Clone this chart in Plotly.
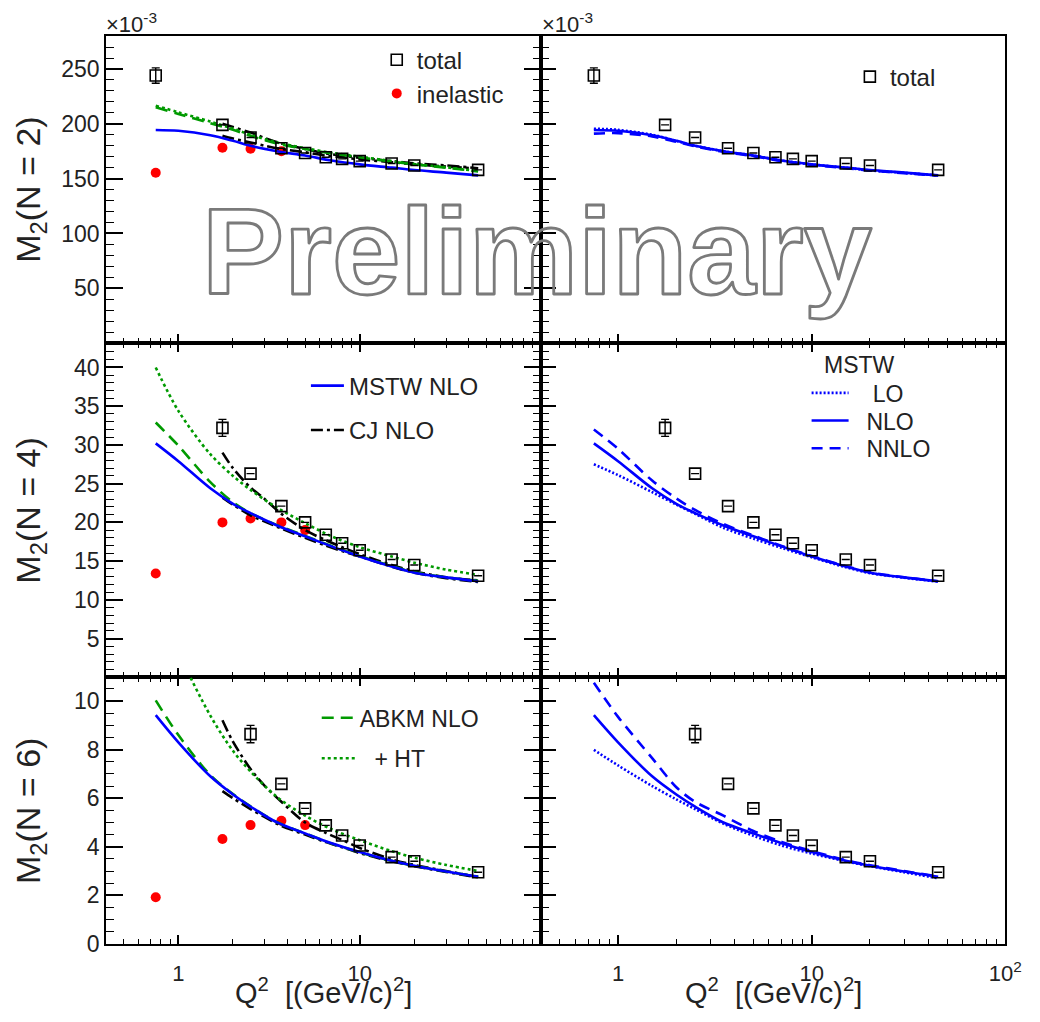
import math
import plotly.graph_objects as go

# ---------------- data (moments in units of 1e-3) ----------------
Q2_DATA = [0.75, 1.75, 2.5, 3.7, 5.0, 6.5, 8.0, 10.0, 15.0, 20.0, 45.0]
Q2_INEL = [0.75, 1.75, 2.5, 3.7, 5.0]
Q2_CURVE = [0.75, 1.0, 1.5, 2.0, 2.5, 3.5, 5.0, 7.0, 10.0, 15.0, 20.0, 30.0, 45.0]
Q2_CJ = [1.75, 2.0, 2.5, 3.0, 3.7, 5.0, 6.5, 8.0, 10.0, 15.0, 20.0, 30.0, 45.0]

# N = 2  (error bars smaller than the marker are not drawn: None)
TOTAL_N2 = [244.0, 199.0, 187.5, 177.7, 173.4, 169.5, 168.0, 166.0, 163.8, 162.0, 158.0]
TOTAL_N2_ERR = [7.0, None, None, None, None, None, None, None, None, None, None]
INEL_N2 = [155.4, 178.2, 177.3, 175.0]
MSTW_LO_N2 = [195.5, 194.5, 190.0, 184.5, 180.0, 175.0, 171.0, 166.5, 163.0, 160.0, 157.5, 155.3, 152.8]
MSTW_NLO_N2 = [194.4, 193.6, 189.5, 184.5, 180.0, 175.0, 171.0, 166.5, 163.0, 160.0, 157.8, 155.5, 153.0]
MSTW_NNLO_N2 = [191.0, 191.5, 188.5, 183.5, 179.5, 174.5, 170.5, 166.0, 162.5, 159.5, 157.3, 155.0, 152.8]
ABKM_NLO_N2 = [215.0, 209.0, 200.5, 194.5, 189.0, 182.0, 177.0, 173.0, 169.5, 165.5, 163.0, 160.0, 156.5]
ABKM_HT_N2 = [216.5, 210.5, 202.0, 195.5, 190.0, 183.0, 177.8, 173.6, 170.0, 166.0, 163.3, 160.3, 156.8]
CJ_NLO_N2 = [189.0, 186.5, 183.0, 180.0, 177.0, 174.0, 171.0, 169.5, 167.5, 165.0, 163.0, 161.0, 159.0]
CJ_NLO_HT_N2 = [200.0, 197.0, 192.0, 187.0, 182.0, 177.0, 173.0, 171.0, 169.0, 166.0, 164.0, 162.0, 159.5]

# N = 4
TOTAL_N4 = [32.2, 26.3, 22.1, 20.0, 18.4, 17.3, 16.4, 15.2, 14.5, 13.1]
TOTAL_N4_ERR = [1.1, None, None, None, None, None, None, None, None, None]
INEL_N4 = [13.4, 20.0, 20.5, 20.0, 19.0]
MSTW_LO_N4 = [27.5, 26.1, 23.9, 22.3, 21.1, 19.3, 17.9, 16.7, 15.5, 14.2, 13.45, 12.85, 12.35]
MSTW_NLO_N4 = [30.2, 27.9, 24.4, 22.4, 21.2, 19.6, 18.2, 16.9, 15.6, 14.3, 13.5, 12.9, 12.4]
MSTW_NNLO_N4 = [32.0, 29.5, 25.4, 23.1, 21.6, 19.8, 18.3, 16.95, 15.65, 14.35, 13.55, 12.9, 12.4]
ABKM_NLO_N4 = [32.9, 29.9, 25.2, 22.6, 21.2, 19.65, 18.25, 16.95, 15.65, 14.35, 13.55, 12.9, 12.45]
ABKM_HT_N4 = [40.0, 34.4, 28.8, 26.0, 24.2, 21.9, 19.9, 18.2, 16.8, 15.6, 14.8, 13.9, 13.2]
CJ_NLO_N4 = [23.2, 22.3, 20.9, 20.1, 19.2, 18.0, 17.0, 16.3, 15.6, 14.3, 13.5, 12.8, 12.3]
CJ_NLO_HT_N4 = [29.0, 27.0, 24.5, 23.0, 21.1, 19.0, 17.7, 16.8, 15.9, 14.5, 13.7, 12.9, 12.5]

# N = 6
TOTAL_N6 = [8.64, 6.59, 5.58, 4.88, 4.46, 4.05, 3.57, 3.40, 2.95]
TOTAL_N6_ERR = [0.36, None, None, None, None, None, None, None, None]
INEL_N6 = [1.92, 4.32, 4.89, 5.07, 4.89]
MSTW_LO_N6 = [7.99, 7.35, 6.5, 5.95, 5.55, 4.95, 4.45, 4.05, 3.72, 3.4, 3.2, 2.95, 2.70]
MSTW_NLO_N6 = [9.42, 8.3, 6.9, 6.15, 5.65, 5.0, 4.55, 4.14, 3.78, 3.42, 3.22, 2.98, 2.76]
MSTW_NNLO_N6 = [10.75, 9.35, 7.65, 6.45, 5.85, 5.28, 4.65, 4.2, 3.82, 3.45, 3.24, 3.0, 2.77]
ABKM_NLO_N6 = [10.03, 8.6, 6.95, 6.17, 5.66, 5.01, 4.55, 4.13, 3.77, 3.42, 3.22, 2.98, 2.77]
ABKM_HT_N6 = [14.1, 12.0, 9.4, 7.95, 7.1, 6.05, 5.28, 4.72, 4.27, 3.82, 3.55, 3.25, 3.0]
CJ_NLO_N6 = [6.29, 6.0, 5.55, 5.22, 4.86, 4.5, 4.19, 3.98, 3.74, 3.4, 3.2, 2.96, 2.74]
CJ_NLO_HT_N6 = [9.21, 8.33, 7.2, 6.5, 5.85, 5.0, 4.57, 4.28, 3.95, 3.48, 3.25, 3.0, 2.75]

Y_TICKS_N2 = [50, 100, 150, 200, 250]
Y_TICKS_N4 = [5, 10, 15, 20, 25, 30, 35, 40]
Y_TICKS_N6 = [0, 2, 4, 6, 8, 10]
X_TICKS = [1, 10, 100]
X_TICKTEXT_LEFT = ["1", "10", ""]
X_TICKTEXT_RIGHT = ["1", "10", "10<sup>2</sup>"]

# ---------------- styling ----------------
W, H = 1040, 1022
FONT = "Liberation Sans, Arial, sans-serif"
TXT = "#222222"
BLUE = "#0000ff"
GREEN = "#009a00"
RED = "#ff0000"
LW = 2.6
NB = "\u00a0"


def px_x(p):
    return p / W


def px_y(p):
    return 1 - p / H


XL = [px_x(108), px_x(550)]
XR = [px_x(550), px_x(1022)]
ROWS = {
    "top": [px_y(347.5), px_y(36)],
    "mid": [px_y(686), px_y(347.5)],
    "bot": [px_y(956), px_y(686)],
}

fig = go.Figure()

# panel -> (xaxis name, yaxis name)
PANELS = {
    ("top", "L"): ("x", "y"), ("top", "R"): ("x2", "y2"),
    ("mid", "L"): ("x3", "y3"), ("mid", "R"): ("x4", "y4"),
    ("bot", "L"): ("x5", "y5"), ("bot", "R"): ("x6", "y6"),
}


def line(panel, x, y, name, color, dash, legend=None, group=None):
    xa, ya = PANELS[panel]
    fig.add_trace(go.Scatter(
        x=x, y=y, mode="lines", name=name, xaxis=xa, yaxis=ya,
        line=dict(color=color, width=LW, dash=dash, shape="spline", smoothing=0.9),
        showlegend=legend is not None, legend=legend or "legend",
        legendgroup=group or name, hoverinfo="skip"))


def total(panel, x, y, err, legend=None):
    xa, ya = PANELS[panel]
    fig.add_trace(go.Scatter(
        x=x, y=y, mode="markers", name="total", xaxis=xa, yaxis=ya,
        marker=dict(symbol="square-open", size=11, color="black",
                    line=dict(width=1.6, color="black")),
        error_y=dict(type="data", array=err, color="black", thickness=1.4, width=4),
        showlegend=legend is not None, legend=legend or "legend"))


def inelastic(panel, x, y, legend=None):
    xa, ya = PANELS[panel]
    fig.add_trace(go.Scatter(
        x=x, y=y, mode="markers", name="inelastic", xaxis=xa, yaxis=ya,
        marker=dict(symbol="circle", size=10, color=RED),
        showlegend=legend is not None, legend=legend or "legend"))


DASH_CJ = "12px,4px,3px,4px"
DASH_ABKM = "12px,7px"
DASH_HT = "3px,3px"
DASH_LO = "2px,2px"
DASH_NNLO = "11px,7px"

rows = [
    ("top", TOTAL_N2, TOTAL_N2_ERR, Q2_DATA, Q2_INEL[:4], INEL_N2,
     MSTW_LO_N2, MSTW_NLO_N2, MSTW_NNLO_N2, ABKM_NLO_N2, ABKM_HT_N2, CJ_NLO_N2, CJ_NLO_HT_N2),
    ("mid", TOTAL_N4, TOTAL_N4_ERR, Q2_DATA[1:], Q2_INEL, INEL_N4,
     MSTW_LO_N4, MSTW_NLO_N4, MSTW_NNLO_N4, ABKM_NLO_N4, ABKM_HT_N4, CJ_NLO_N4, CJ_NLO_HT_N4),
    ("bot", TOTAL_N6, TOTAL_N6_ERR, Q2_DATA[2:], Q2_INEL, INEL_N6,
     MSTW_LO_N6, MSTW_NLO_N6, MSTW_NNLO_N6, ABKM_NLO_N6, ABKM_HT_N6, CJ_NLO_N6, CJ_NLO_HT_N6),
]

for (r, tot, err, q_tot, q_in, inel, lo, nlo, nnlo, abkm, ht, cj, cjht) in rows:
    # left column: data compared with several PDF sets
    inelastic((r, "L"), q_in, inel, legend="legend2" if r == "top" else None)
    line((r, "L"), Q2_CJ, cjht, "CJ NLO", "black", DASH_CJ, group="cj")
    line((r, "L"), Q2_CJ, cj, "CJ NLO", "black", DASH_CJ,
         legend="legend5" if r == "mid" else None, group="cj")
    line((r, "L"), Q2_CURVE, abkm, "ABKM NLO", GREEN, DASH_ABKM,
         legend="legend10" if r == "bot" else None)
    line((r, "L"), Q2_CURVE, ht, NB * 2 + "+ HT", GREEN, DASH_HT,
         legend="legend11" if r == "bot" else None)
    line((r, "L"), Q2_CURVE, nlo, "MSTW NLO", BLUE, "solid",
         legend="legend4" if r == "mid" else None)
    total((r, "L"), q_tot, tot, err, legend="legend" if r == "top" else None)
    # right column: MSTW at successive orders
    line((r, "R"), Q2_CURVE, lo, NB * 3 + "LO", BLUE, DASH_LO,
         legend="legend7" if r == "mid" else None)
    line((r, "R"), Q2_CURVE, nlo, NB * 2 + "NLO", BLUE, "solid",
         legend="legend8" if r == "mid" else None)
    line((r, "R"), Q2_CURVE, nnlo, NB * 2 + "NNLO", BLUE, DASH_NNLO,
         legend="legend9" if r == "mid" else None)
    total((r, "R"), q_tot, tot, err, legend="legend3" if r == "top" else None)

# ---------------- axes ----------------
XRANGE = [math.log10(0.4), 2]
MINOR_X = [m * 10 ** e for e in (-1, 0, 1) for m in range(2, 10) if m * 10 ** e >= 0.4]
YSPEC = {
    "top": dict(range=[0, 280.5], tickvals=Y_TICKS_N2, minor=10),
    "mid": dict(range=[0, 43.15], tickvals=Y_TICKS_N4, minor=1),
    "bot": dict(range=[0, 10.98], tickvals=Y_TICKS_N6, minor=0.5),
}
ytickfont = dict(family=FONT, size=23, color=TXT)
xtickfont = dict(family=FONT, size=22, color=TXT)

layout = {}
for (r, side), (xa, ya) in PANELS.items():
    xkey = "xaxis" + xa[1:]
    ykey = "yaxis" + ya[1:]
    bottom = r == "bot"
    layout[xkey] = dict(
        type="log", range=XRANGE, domain=XL if side == "L" else XR,
        anchor=ya, showline=True, linecolor="black", linewidth=2,
        mirror=True if r == "top" else "ticks",
        ticks="inside", ticklen=9, tickwidth=1.5, tickcolor="black",
        tickmode="array", tickvals=X_TICKS,
        ticktext=X_TICKTEXT_LEFT if side == "L" else X_TICKTEXT_RIGHT,
        showticklabels=bottom, tickfont=xtickfont, ticklabelstandoff=9,
        minor=dict(ticks="inside", ticklen=5, tickwidth=1.2, tickcolor="black",
                   tickmode="array", tickvals=MINOR_X, showgrid=False),
        showgrid=False, zeroline=False, fixedrange=True,
    )
    spec = YSPEC[r]
    layout[ykey] = dict(
        range=spec["range"], domain=ROWS[r], anchor=xa,
        showline=True, linecolor="black", linewidth=2,
        mirror="ticks" if side == "L" else True,
        ticks="inside", ticklen=17 if side == "L" else 15, tickwidth=1.5, tickcolor="black",
        tickmode="array", tickvals=spec["tickvals"],
        showticklabels=side == "L", tickfont=ytickfont,
        minor=dict(ticks="inside", ticklen=8, tickwidth=1.2, tickcolor="black",
                   dtick=spec["minor"], showgrid=False),
        showgrid=False, zeroline=False, fixedrange=True,
    )


def legend_at(x, y, size=24, itemwidth=30):
    return dict(x=px_x(x), y=px_y(y), xanchor="left", yanchor="middle",
                bgcolor="rgba(0,0,0,0)", borderwidth=0, itemwidth=itemwidth,
                font=dict(family=FONT, size=size, color=TXT), tracegroupgap=0)


layout.update(
    legend=legend_at(383, 61),
    legend2=legend_at(383, 95),
    legend3=legend_at(864, 78),
    legend4=legend_at(311, 391, itemwidth=33),
    legend5=legend_at(311, 436, itemwidth=33),
    legend7=legend_at(820, 398, size=23, itemwidth=37),
    legend8=legend_at(820, 426, size=23, itemwidth=37),
    legend9=legend_at(820, 454, size=23, itemwidth=37),
    legend10=legend_at(322, 727, size=23, itemwidth=33),
    legend11=legend_at(322, 768, size=23, itemwidth=35),
)

annotations = []
# y-axis titles
for r, n in (("top", 2), ("mid", 4), ("bot", 6)):
    lo_, hi_ = ROWS[r]
    annotations.append(dict(
        text=f"M<sub>2</sub>(N = {n})", xref="paper", yref="paper",
        x=px_x(31), y=(lo_ + hi_) / 2, xanchor="center", yanchor="middle",
        textangle=-90, showarrow=False,
        font=dict(family=FONT, size=34, color=TXT)))
# x-axis titles
for cx in (329, 786):
    annotations.append(dict(
        text="Q<sup>2</sup>\u00a0 [(GeV/c)<sup>2</sup>]", xref="paper", yref="paper",
        x=px_x(cx), y=px_y(1004), xanchor="center", yanchor="middle", showarrow=False,
        font=dict(family=FONT, size=29, color=TXT)))
# exponent labels above the N = 2 panels
for lx in (106, 549):
    annotations.append(dict(
        text="\u00d710<sup>-3</sup>", xref="paper", yref="paper",
        x=px_x(lx), y=px_y(40), xanchor="left", yanchor="bottom", showarrow=False,
        font=dict(family=FONT, size=22, color=TXT)))
# header of the MSTW order legend
annotations.append(dict(
    text="MSTW", xref="paper", yref="paper", x=px_x(836), y=px_y(370),
    xanchor="left", yanchor="middle", showarrow=False,
    font=dict(family=FONT, size=23, color=TXT)))
# watermark
annotations.append(dict(
    text="Preliminary", xref="paper", yref="paper", x=px_x(546), y=px_y(255),
    xanchor="center", yanchor="middle",
    showarrow=False, font=dict(family=FONT, size=123, color="#808080", weight="bold")))

layout.update(
    width=W, height=H, margin=dict(l=0, r=0, t=0, b=0), autosize=False,
    paper_bgcolor="white", plot_bgcolor="white",
    annotations=annotations, showlegend=True,
)
fig.update_layout(**layout)

# outlined (hollow) watermark lettering; page without margins or scrollbars
PAGE_JS = """
document.documentElement.style.margin = '0';
document.documentElement.style.overflow = 'hidden';
document.body.style.margin = '0';
document.body.style.overflow = 'hidden';
var gd = document.getElementById('{plot_id}');
function outlineMark() {
  gd.querySelectorAll('.annotation-text').forEach(function (t) {
    if ((t.textContent || '').indexOf('Preliminary') >= 0) {
      [t].concat(Array.prototype.slice.call(t.querySelectorAll('tspan'))).forEach(function (e) {
        e.style.fill = 'none';
        e.style.stroke = '#7a7a7a';
        e.style.strokeWidth = '2.8px';
        e.style.strokeLinejoin = 'round';
      });
    }
  });
}
outlineMark();
if (gd.on) { gd.on('plotly_afterplot', outlineMark); }
"""

fig.write_html("out.html", post_script=PAGE_JS, config={"responsive": False})
